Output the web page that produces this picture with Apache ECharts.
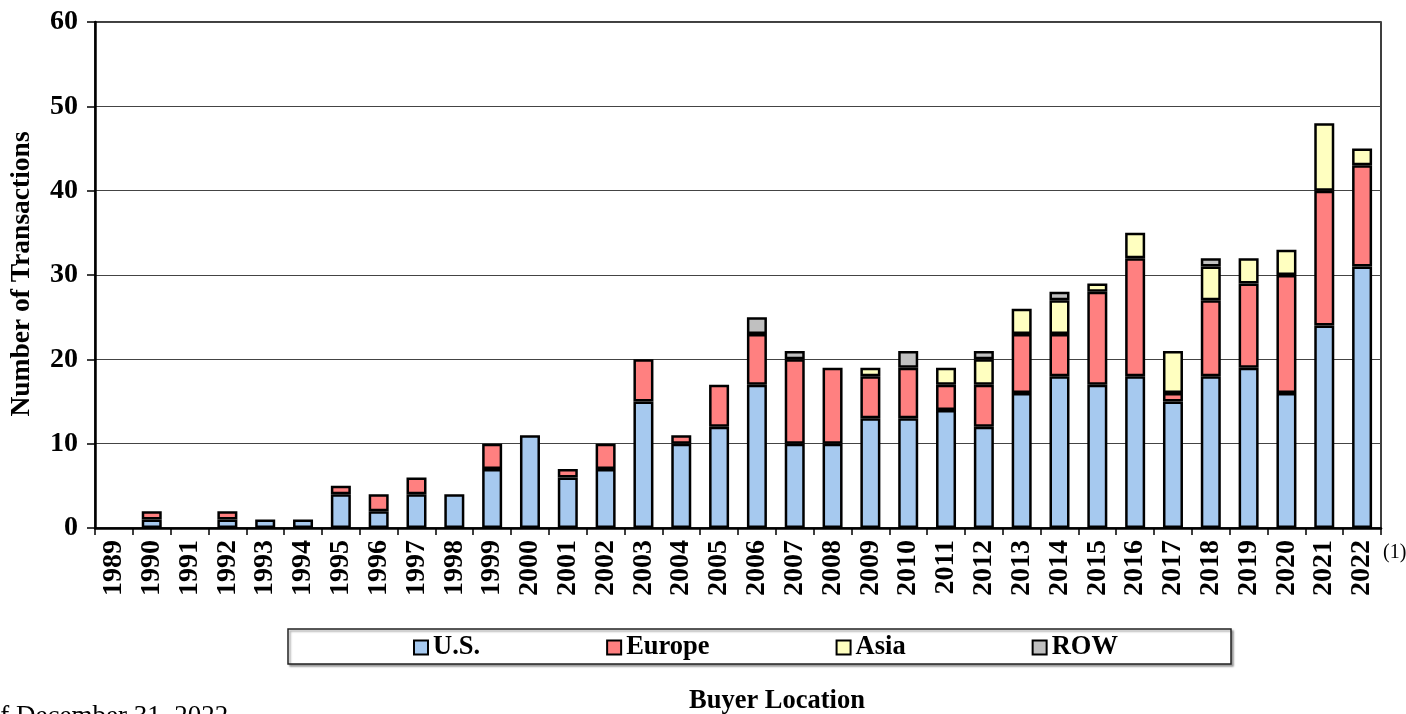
<!DOCTYPE html>
<html>
<head>
<meta charset="utf-8">
<script src="https://cdn.jsdelivr.net/npm/echarts@6/dist/echarts.min.js"></script>
<style>html,body{margin:0;padding:0;background:#fff}#c{width:1406px;height:714px}</style>
</head>
<body>
<div id="c"></div>
<script>
const years = ['1989','1990','1991','1992','1993','1994','1995','1996','1997','1998','1999','2000','2001','2002','2003','2004','2005','2006','2007','2008','2009','2010','2011','2012','2013','2014','2015','2016','2017','2018','2019','2020','2021','2022'];
const us     = [0,1,0,1,1,1,4,2,4,4,7,11,6,7,15,10,12,17,10,10,13,13,14,12,16,18,17,18,15,18,19,16,24,31];
const europe = [0,1,0,1,0,0,1,2,2,0,3,0,1,3,5,1,5,6,10,9,5,6,3,5,7,5,11,14,1,9,10,14,16,12];
const asia   = [0,0,0,0,0,0,0,0,0,0,0,0,0,0,0,0,0,0,0,0,1,0,2,3,3,4,1,3,5,4,3,3,8,2];
const row    = [0,0,0,0,0,0,0,0,0,0,0,0,0,0,0,0,0,2,1,0,0,2,0,1,0,1,0,0,0,1,0,0,0,0];
const yTicks = [0,10,20,30,40,50,60];

const FONT = '"Liberation Serif","Times New Roman",serif';
const chart = echarts.init(document.getElementById('c'), null, {renderer:'canvas'});

function ser(name, data, color){
  return {
    name, type:'bar', stack:'total', data: data.map(v => v === 0 ? null : v),
    barWidth: 20,
    itemStyle:{color, borderColor:'#000', borderWidth:2.5},
    emphasis:{disabled:true}
  };
}

chart.setOption({
  animation:false,
  grid:{left:95, right:25, top:22, bottom:186, show:true, borderColor:'#000', borderWidth:1.5},
  legend:{
    left:413, top:634, padding:0, itemGap:126, itemWidth:14, itemHeight:14,
    icon:'rect',
    textStyle:{fontFamily:FONT, fontWeight:'bold', fontSize:26.5, color:'#000'},
    data:['U.S.','Europe','Asia','ROW']
  },
  xAxis:{
    type:'category', data:years,
    axisLine:{lineStyle:{color:'#000', width:2.5}},
    axisTick:{show:true, length:7, lineStyle:{color:'#000', width:1.5}},
    axisLabel:{rotate:90, margin:12, interval:0, fontFamily:FONT, fontWeight:'bold', fontSize:28, color:'#000'}
  },
  yAxis:{
    type:'value', min:yTicks[0], max:yTicks[yTicks.length-1], interval:10,
    axisLine:{show:true, lineStyle:{color:'#000', width:2.5}},
    axisTick:{show:true, length:8, lineStyle:{color:'#000', width:1.5}},
    splitLine:{lineStyle:{color:'#444', width:1.2}},
    axisLabel:{margin:17, fontFamily:FONT, fontWeight:'bold', fontSize:28, color:'#000'}
  },
  series:[
    ser('U.S.', us, '#A6C9EF'),
    ser('Europe', europe, '#FF8080'),
    ser('Asia', asia, '#FFFFC0'),
    ser('ROW', row, '#C0C0C0')
  ],
  graphic:[
    {type:'rect', z:-1, shape:{x:288, y:629, width:943, height:35},
     style:{fill:'#fff', stroke:'#222', lineWidth:1.5, shadowColor:'rgba(0,0,0,0.35)', shadowOffsetX:2, shadowOffsetY:2, shadowBlur:2}},
    {type:'text', x:22, y:274, rotation:Math.PI/2,
     style:{text:'Number of Transactions', fontFamily:FONT, fontWeight:'bold', fontSize:27.5, fill:'#000', align:'center', verticalAlign:'middle'}},
    {type:'text', x:777, y:701,
     style:{text:'Buyer Location', fontFamily:FONT, fontWeight:'bold', fontSize:26.5, fill:'#000', align:'center', verticalAlign:'middle'}},
    {type:'text', x:-50, y:717,
     style:{text:'As of December 31, 2022', fontFamily:FONT, fontSize:27, fill:'#000', align:'left', verticalAlign:'middle'}},
    {type:'text', x:1383, y:553,
     style:{text:'(1)', fontFamily:FONT, fontSize:20, fill:'#000', align:'left', verticalAlign:'middle'}}
  ]
});
</script>
</body>
</html>
